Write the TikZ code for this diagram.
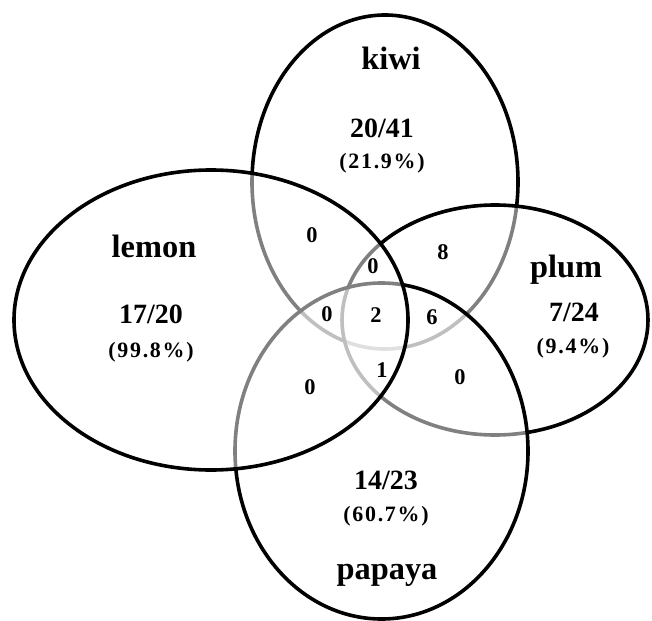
\documentclass[tikz,border=0pt]{standalone}
\usepackage{fontspec}
\setmainfont{Liberation Serif}
\newfontfamily\pctfont{Liberation Serif}[LetterSpace=8]
\tikzset{
  setshape/.style={draw=black, line width=3.6bp, fill=white, fill opacity=0.5},
  setlabel/.style={inner sep=0pt, font=\fontsize{32.5}{32.5}\selectfont\bfseries},
  fraclabel/.style={inner sep=0pt, font=\fontsize{28}{28}\selectfont\bfseries},
  pctlabel/.style={inner sep=0pt, font=\pctfont\fontsize{22}{22}\selectfont\bfseries},
  cntlabel/.style={inner sep=0pt, font=\fontsize{22.5}{22.5}\selectfont\bfseries}
}
\begin{document}
\begin{tikzpicture}[x=1bp, y=-1bp]
\useasboundingbox (0,0) rectangle (652,621);
% sets, drawn in layering order
\draw[setshape] (385,182) ellipse [x radius=133, y radius=167];   % kiwi
\draw[setshape] (495,320) ellipse [x radius=153, y radius=115];   % plum
\draw[setshape] (381.5,451) ellipse [x radius=146.5, y radius=168]; % papaya
\draw[setshape] (211,320) ellipse [x radius=197, y radius=150];   % lemon
% labels
\node[setlabel] (kiwi) at (391,58) {kiwi};
\node[fraclabel] (kiwif) at (382,128) {20/41};
\node[pctlabel] (kiwip) at (382,163) {(21.9\%)};
\node[setlabel] (lemon) at (154,246) {lemon};
\node[fraclabel] (lemonf) at (151,314) {17/20};
\node[pctlabel] (lemonp) at (151,352) {(99.8\%)};
\node[setlabel] (plum) at (566,270) {plum};
\node[fraclabel] (plumf) at (574,312) {7/24};
\node[pctlabel] (plump) at (573,348) {(9.4\%)};
\node[fraclabel] (papayaf) at (386,480) {14/23};
\node[pctlabel] (papayap) at (386,516) {(60.7\%)};
\node[setlabel] (papaya) at (387,575) {papaya};
% region counts
\node[cntlabel] (kl) at (312,235) {0};
\node[cntlabel] (kp) at (443,252) {8};
\node[cntlabel] (klp) at (373,266) {0};
\node[cntlabel] (klpa) at (327,314) {0};
\node[cntlabel] (all) at (376,315) {2};
\node[cntlabel] (kppa) at (432,317) {6};
\node[cntlabel] (lpap) at (382,370) {1};
\node[cntlabel] (lpa) at (310,387) {0};
\node[cntlabel] (ppa) at (460,377) {0};
\end{tikzpicture}
\end{document}
